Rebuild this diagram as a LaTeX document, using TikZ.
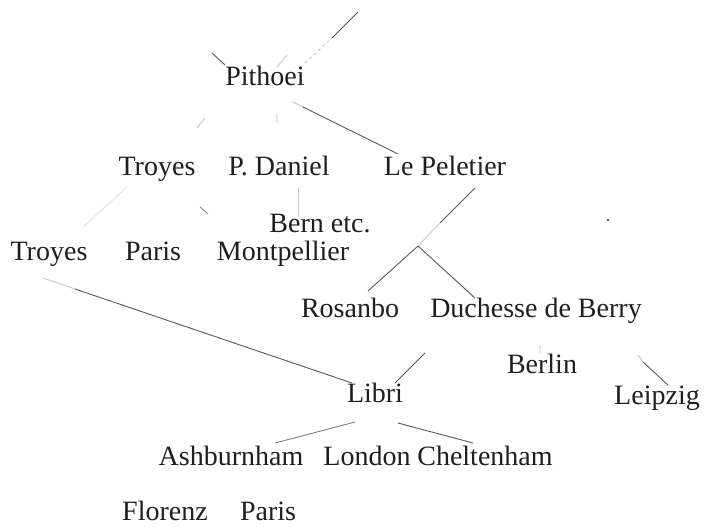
\documentclass[tikz,border=0pt]{standalone}
\usepackage{fontspec}
\setmainfont{Liberation Serif}
\usetikzlibrary{calc}
\begin{document}
\begin{tikzpicture}[x=1pt,y=-1pt,
  lbl/.style={inner sep=0pt, text height=0.7em, text depth=0.22em,
    font=\fontsize{28}{30}\selectfont, text=black!88},
  edge/.style={draw=black!65, line width=0.9pt},
  faint/.style={draw=black!22, line width=0.9pt},
  ghost/.style={draw=black!9, line width=1.2pt}]
\useasboundingbox[fill=white] (0,0) rectangle (704,528);
% nodes
\node[lbl] (pith)     at (265,83)  {Pithoei};
\node[lbl] (troyesA)  at (157,173) {Troyes};
\node[lbl] (daniel)   at (279,173) {P. Daniel};
\node[lbl] (lepel)    at (445,173) {Le Peletier};
\node[lbl] (bern)     at (320,230) {Bern etc.};
\node[lbl] (troyesB)  at (49,258)  {Troyes};
\node[lbl] (parisA)   at (153,258) {Paris};
\node[lbl] (montp)    at (283,258) {Montpellier};
\node[lbl] (rosanbo)  at (350,315) {Rosanbo};
\node[lbl] (duchesse) at (536,315) {Duchesse de Berry};
\node[lbl] (berlin)   at (542,371) {Berlin};
\node[lbl] (leipzig)  at (657,402) {Leipzig};
\node[lbl] (libri)    at (375,400) {Libri};
\node[lbl] (ashb)     at (231,463) {Ashburnham};
\node[lbl] (london)   at (367,463) {London};
\node[lbl] (chelt)    at (485,463) {Cheltenham};
\node[lbl] (florenz)  at (165,518) {Florenz};
\node[lbl] (parisB)   at (268,518) {Paris};
% free ends and fork
\coordinate (topend) at (358,12);
\coordinate (ulend)  at (212,53);
\coordinate (fork)   at (418,246);
% Pithoei upward
\draw[faint, dashed] ($(pith)+(40,-20)$) -- ($(pith)+(67,-45)$);
\draw[edge] ($(pith)+(67,-45)$) -- (topend);
\draw[edge] ($(pith)+(-40,-18)$) -- (ulend);
\draw[faint] ($(pith)+(12,-16)$) -- ($(pith)+(22,-28)$);
% Pithoei downward
\draw[faint] ($(pith)+(28,19)$) -- ($(pith)+(38,24)$);
\draw[edge] ($(pith)+(38,24)$) -- ($(lepel)+(-47,-19)$);
\draw[faint] ($(pith)+(-60,35)$) -- ($(troyesA)+(40,-45)$);
\draw[ghost] ($(pith)+(12,30)$) -- ($(daniel)+(-2,-50)$);
% second level
\draw[faint] ($(daniel)+(19,15)$) -- ($(bern)+(-22,-13)$);
\draw[edge, draw=black!45] ($(troyesA)+(43,34)$) -- ($(montp)+(-75,-44)$);
\draw[ghost] ($(troyesA)+(-30,14)$) -- ($(troyesB)+(34,-31)$);
\draw[edge] ($(lepel)+(30,15)$) -- ($(lepel)+(-5,50)$);
\draw[faint] ($(lepel)+(-5,50)$) -- (fork);
\draw[edge] (fork) -- ($(rosanbo)+(18,-24)$);
\draw[edge] (fork) -- ($(duchesse)+(-61,-17)$);
% Duchesse de Berry
\draw[edge] ($(duchesse)+(-111,38)$) -- ($(libri)+(20,-17)$);
\draw[ghost] ($(duchesse)+(4,30)$) -- ($(berlin)+(-2,-18)$);
\draw[faint] ($(duchesse)+(102,40)$) -- ($(duchesse)+(107,47)$);
\draw[edge] ($(duchesse)+(107,47)$) -- ($(leipzig)+(11,-17)$);
% Troyes -> Libri
\draw[faint] ($(troyesB)+(-6,20)$) -- ($(troyesB)+(26,31)$);
\draw[edge] ($(troyesB)+(26,31)$) -- ($(libri)+(-23,-17)$);
% Libri
\draw[edge, draw=black!50] ($(libri)+(-20,22)$) -- ($(ashb)+(44,-20)$);
\draw[edge] ($(libri)+(23,23)$) -- ($(chelt)+(-12,-20)$);
% speck
\fill[black!70] (608,220) circle (1.3);
\end{tikzpicture}
\end{document}
